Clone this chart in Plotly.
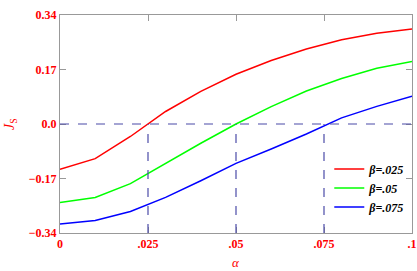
import plotly.graph_objects as go

alpha = [0.0, 0.01, 0.02, 0.03, 0.04, 0.05, 0.06, 0.07, 0.08, 0.09, 0.10]
js_b025 = [-0.141, -0.108, -0.039, 0.039, 0.102, 0.155, 0.198, 0.234, 0.263, 0.283, 0.296]
js_b05 = [-0.245, -0.229, -0.186, -0.123, -0.060, 0.000, 0.054, 0.103, 0.142, 0.174, 0.195]
js_b075 = [-0.312, -0.301, -0.273, -0.229, -0.177, -0.123, -0.078, -0.031, 0.019, 0.055, 0.087]
series_names = ["β=.025", "β=.05", "β=.075"]
series_colors = ["#ff0000", "#00ff00", "#0000ff"]
crossings = [0.025, 0.05, 0.075]

x_tickvals = [0, 0.025, 0.05, 0.075, 0.1]
x_ticktext = ["0", ".025", ".05", ".075", ".1"]
y_tickvals = [-0.34, -0.17, 0.0, 0.17, 0.34]
y_ticktext = ["−0.34", "−0.17", "0.0", "0.17", "0.34"]

fig = go.Figure()
for name, ys, col in zip(series_names, [js_b025, js_b05, js_b075], series_colors):
    fig.add_trace(go.Scatter(x=alpha, y=ys, mode="lines", name=name,
                             line=dict(color=col, width=1.5)))

dash_col = "#4b4ba8"
fig.add_shape(type="line", xref="x", yref="y", x0=alpha[0], x1=alpha[-1], y0=0, y1=0,
              line=dict(color=dash_col, width=1.2, dash="dash"), layer="above")
for c in crossings:
    fig.add_shape(type="line", xref="x", yref="y", x0=c, x1=c, y0=y_tickvals[0], y1=0,
                  line=dict(color=dash_col, width=1.2, dash="dash"), layer="above")

tickfont = dict(family="Liberation Serif", size=12, color="#ff0000", weight="bold")
axis_common = dict(showgrid=False, zeroline=False, showline=True, linecolor="#999999",
                   linewidth=1, mirror="ticks", ticks="inside", ticklen=6,
                   tickcolor="#999999", tickfont=tickfont, automargin=False)

fig.update_layout(
    width=417, height=271,
    margin=dict(l=60, r=5, t=15, b=38),
    paper_bgcolor="white", plot_bgcolor="white",
    xaxis=dict(range=[0, 0.1], tickvals=x_tickvals, ticktext=x_ticktext, **axis_common),
    yaxis=dict(range=[-0.34, 0.34], tickvals=y_tickvals, ticktext=y_ticktext, **axis_common),
    legend=dict(x=0.765, y=0.36, xanchor="left", yanchor="top",
                bgcolor="rgba(0,0,0,0)", borderwidth=0,
                font=dict(family="Liberation Serif", size=12, color="black",
                          weight="bold", style="italic"),
                itemwidth=30, tracegroupgap=0),
    showlegend=True,
)

fig.add_annotation(text="α", xref="paper", yref="paper", x=0.5, y=0, yshift=-29,
                   xanchor="center", yanchor="middle", showarrow=False,
                   font=dict(family="Liberation Serif", size=13, color="#ff0000", style="italic"))
fig.add_annotation(text="<i>J</i><sub>S</sub>", xref="paper", yref="paper", x=0, y=0.5,
                   xshift=-50, xanchor="center", yanchor="middle", showarrow=False,
                   textangle=-90,
                   font=dict(family="Liberation Serif", size=14, color="#ff0000"))

fig.write_html("out.html", config={"displayModeBar": False},
               post_script="document.body.style.margin='0';")
